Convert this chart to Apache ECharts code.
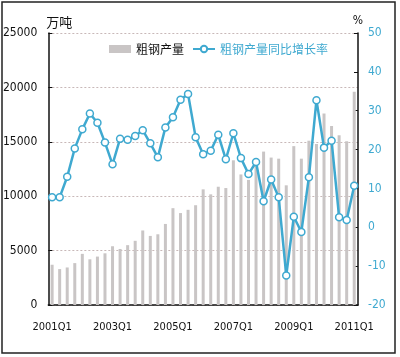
<!DOCTYPE html>
<html>
<head>
<meta charset="utf-8">
<script src="https://cdn.jsdelivr.net/npm/echarts@6/dist/echarts.min.js"></script>
<style>html,body{margin:0;padding:0;background:#fff;}#c{width:400px;height:357px;}</style>
</head>
<body>
<div id="c"></div>
<script>
var categories = ['2001Q1','2001Q2','2001Q3','2001Q4','2002Q1','2002Q2','2002Q3','2002Q4',
'2003Q1','2003Q2','2003Q3','2003Q4','2004Q1','2004Q2','2004Q3','2004Q4',
'2005Q1','2005Q2','2005Q3','2005Q4','2006Q1','2006Q2','2006Q3','2006Q4',
'2007Q1','2007Q2','2007Q3','2007Q4','2008Q1','2008Q2','2008Q3','2008Q4',
'2009Q1','2009Q2','2009Q3','2009Q4','2010Q1','2010Q2','2010Q3','2010Q4','2011Q1'];
var output = [3700,3300,3450,3850,4700,4200,4450,4750,5400,5150,5500,5900,6850,6350,6500,7450,
8900,8450,8750,9170,10630,10170,10870,10750,13300,12000,11500,13400,14100,13550,13450,11000,
14600,13450,15100,14800,17600,16450,15600,15050,19600];
var growth = [7.7,7.7,13.0,20.3,25.2,29.3,26.9,21.8,16.2,22.8,22.5,23.5,25.0,21.6,18.0,25.7,
28.3,32.8,34.3,23.2,18.8,19.7,23.8,17.5,24.2,17.8,13.7,16.8,6.7,12.3,7.7,-12.4,
2.7,-1.2,12.9,32.7,20.5,22.3,2.6,1.9,10.7];
var leftTicks = [0,5000,10000,15000,20000,25000];
var rightTicks = [-20,-10,0,10,20,30,40,50];

var barColor = '#c9c5c5';
var lineColor = '#3fa9d0';
var font = '"DejaVu Sans Condensed","Liberation Sans Narrow",sans-serif';
var cjk = '"Noto Sans CJK SC",sans-serif';

var chart = echarts.init(document.getElementById('c'));
chart.setOption({
  animation: false,
  backgroundColor: '#fff',
  grid: {left: 46, right: 42, top: 33, bottom: 52},
  legend: {
    left: 104, top: 38, itemGap: 8, itemWidth: 22, itemHeight: 8,
    textStyle: {fontFamily: cjk, fontSize: 12},
    data: [
      {name: '粗钢产量', icon: 'rect', textStyle: {color: '#111'}},
      {name: '粗钢产量同比增长率', textStyle: {color: lineColor}}
    ]
  },
  xAxis: {
    type: 'category', data: categories, boundaryGap: true,
    axisLine: {lineStyle: {color: '#111', width: 1.5}},
    axisTick: {inside: true, interval: 1, length: 4, lineStyle: {color: '#111'}},
    axisLabel: {interval: 7, color: '#111', fontFamily: font, fontSize: 11, margin: 17}
  },
  yAxis: [
    {
      type: 'value', min: leftTicks[0], max: leftTicks[leftTicks.length-1], interval: 5000,
      name: '万吨', nameLocation: 'end', nameGap: 4,
      nameTextStyle: {fontFamily: cjk, fontSize: 13, color: '#111', align: 'left', padding: [0,0,0,-2]},
      axisLine: {show: true, lineStyle: {color: '#111', width: 1.5}},
      axisTick: {show: true, inside: true, length: 4, lineStyle: {color: '#111'}},
      axisLabel: {color: '#111', fontFamily: font, fontSize: 12, margin: 11,
                  formatter: function (v) { return String(v); }},
      splitLine: {show: true, lineStyle: {color: '#c8b8b8', type: [2,2], width: 1}}
    },
    {
      type: 'value', min: rightTicks[0], max: rightTicks[rightTicks.length-1], interval: 10,
      name: '%', nameLocation: 'end', nameGap: 4,
      nameTextStyle: {fontFamily: font, fontSize: 12, color: '#111', align: 'center'},
      axisLine: {show: true, lineStyle: {color: '#111', width: 1.5}},
      axisTick: {show: true, inside: true, length: 4, lineStyle: {color: '#111'}},
      axisLabel: {color: lineColor, fontFamily: font, fontSize: 12, margin: 10},
      splitLine: {show: false}
    }
  ],
  series: [
    {
      name: '粗钢产量', type: 'bar', yAxisIndex: 0, data: output,
      barWidth: 3, itemStyle: {color: barColor}
    },
    {
      name: '粗钢产量同比增长率', type: 'line', yAxisIndex: 1, data: growth,
      symbol: 'circle', symbolSize: 7, showAllSymbol: true,
      lineStyle: {color: lineColor, width: 2.5},
      itemStyle: {color: '#fff', borderColor: lineColor, borderWidth: 1.5}
    }
  ],
  graphic: [
    {type: 'rect', shape: {x: 2, y: 2, width: 393, height: 351},
     style: {fill: 'none', stroke: '#222', lineWidth: 1.5}, silent: true, z: 100}
  ]
});
</script>
</body>
</html>
